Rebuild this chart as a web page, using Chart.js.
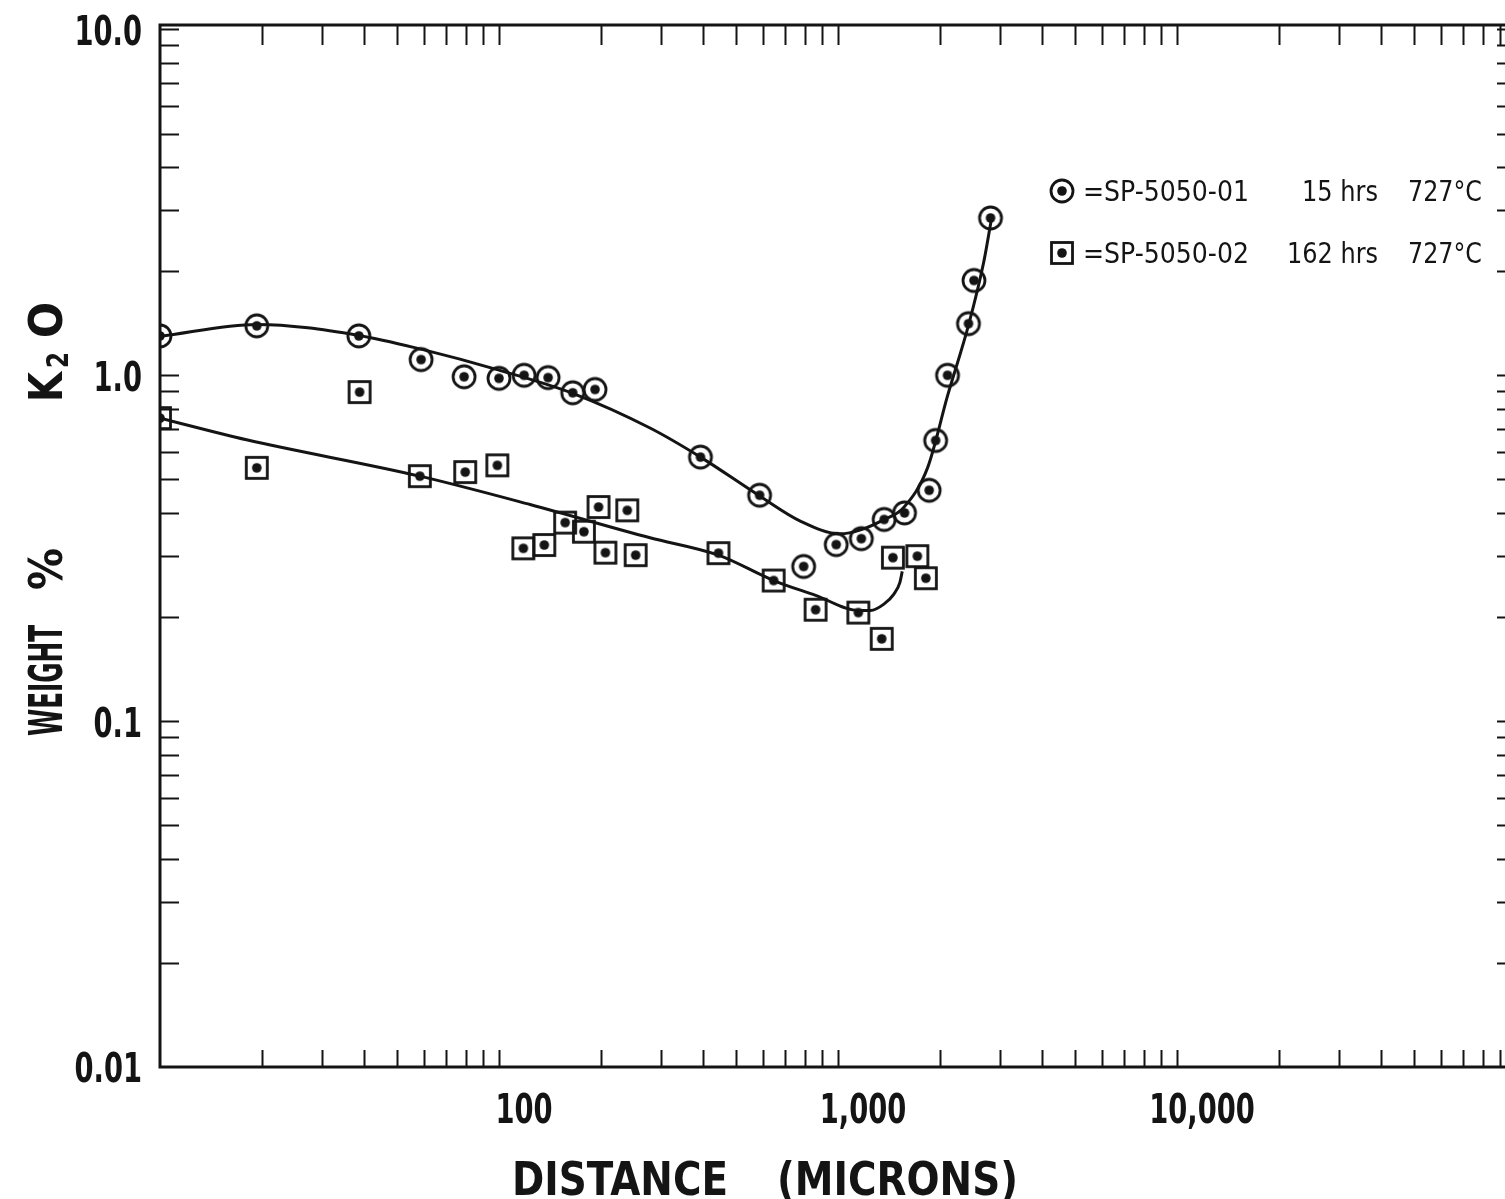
<!DOCTYPE html>
<html>
<head>
<meta charset="utf-8">
<title>Weight % K2O vs distance</title>
<script src="https://cdn.jsdelivr.net/npm/chart.js@4.4.1/dist/chart.umd.min.js"></script>
<style>
  html, body { margin: 0; padding: 0; background: #fff; overflow: hidden; }
  #wrap { width: 1540px; height: 1199px; }
</style>
</head>
<body>
<div id="wrap"><canvas id="k2oChart" width="1540" height="1199"></canvas></div>
<script>
// SP-5050-01, 15 hrs at 727 C
const run01Dist = [10, 19.3, 38.6, 58.9, 78.9, 100, 118.6, 139.6, 165, 192, 393, 587, 792, 988, 1172, 1368, 1571, 1857, 1941, 2104, 2426, 2518, 2818];
const run01K2O  = [1.30, 1.39, 1.30, 1.11, 0.99, 0.98, 1.0, 0.985, 0.89, 0.91, 0.58, 0.45, 0.28, 0.324, 0.337, 0.383, 0.40, 0.465, 0.648, 1.0, 1.41, 1.88, 2.85];

// SP-5050-02, 162 hrs at 727 C
const run02Dist = [10, 19.3, 38.8, 58.4, 79.5, 98.9, 118, 136, 156.7, 178, 196.6, 206, 239, 253, 444, 646, 859, 1148, 1346, 1452, 1714, 1816];
const run02K2O  = [0.752, 0.540, 0.894, 0.511, 0.525, 0.549, 0.316, 0.323, 0.375, 0.353, 0.416, 0.307, 0.407, 0.302, 0.306, 0.255, 0.210, 0.206, 0.173, 0.297, 0.300, 0.259];

// hand-faired curves through each set
const curve01Dist = [10, 19.3, 38.6, 58.9, 100, 165, 279, 393, 587, 774, 1013, 1172, 1361, 1560, 1837, 2107, 2430, 2692, 2830];
const curve01K2O  = [1.296, 1.403, 1.304, 1.19, 1.035, 0.887, 0.704, 0.580, 0.448, 0.379, 0.348, 0.358, 0.382, 0.414, 0.540, 0.876, 1.403, 2.13, 2.80];
const curve02Dist = [10, 18, 58.4, 123.5, 279, 444, 646, 859, 1148, 1247, 1366, 1462, 1523, 1547];
const curve02K2O  = [0.752, 0.651, 0.511, 0.423, 0.339, 0.302, 0.255, 0.231, 0.209, 0.209, 0.218, 0.233, 0.252, 0.271];

const xTickValues = [100, 1000, 10000];
const xTickLabels = ['100', '1,000', '10,000'];
const yTickValues = [0.01, 0.1, 1, 10];
const yTickLabels = ['0.01', '0.1', '1.0', '10.0'];

const legendNames = ['=SP-5050-01', '=SP-5050-02'];
const legendHours = ['15 hrs', '162 hrs'];
const legendTemps = ['727°C', '727°C'];

const INK = '#141414';
const NARROW = "'DejaVu Sans Condensed', 'DejaVu Sans', sans-serif";

function toPoints(xs, ys) {
    return xs.map((x, i) => ({ x: x, y: ys[i] }));
}

// ringed / boxed markers with a dot in the middle
function makeMarker(shape) {
    const c = document.createElement('canvas');
    c.width = 28;
    c.height = 28;
    const g = c.getContext('2d');
    g.strokeStyle = INK;
    g.fillStyle = INK;
    g.lineWidth = 2.8;
    if (shape === 'circle') {
        g.beginPath();
        g.arc(14, 14, 11, 0, Math.PI * 2);
        g.stroke();
    } else {
        g.strokeRect(3.5, 3.5, 21, 21);
    }
    g.beginPath();
    g.arc(14, 14, 4.8, 0, Math.PI * 2);
    g.fill();
    return c;
}
const circleMark = makeMarker('circle');
const squareMark = makeMarker('square');

// text drawn with a horizontal squeeze factor
function drawSqueezed(ctx, text, x, y, font, sx, align, angle) {
    ctx.save();
    ctx.font = font;
    ctx.translate(x, y);
    if (angle) ctx.rotate(angle);
    ctx.scale(sx, 1);
    ctx.textAlign = align || 'left';
    ctx.textBaseline = 'middle';
    ctx.fillStyle = INK;
    ctx.fillText(text, 0, 0);
    ctx.restore();
}

// text squeezed or stretched to a given run length
function drawFitted(ctx, text, x, y, font, width, angle) {
    ctx.save();
    ctx.font = font;
    const w = ctx.measureText(text).width;
    ctx.translate(x, y);
    if (angle) ctx.rotate(angle);
    ctx.scale(width / w, 1);
    ctx.textAlign = 'left';
    ctx.textBaseline = 'alphabetic';
    ctx.fillStyle = INK;
    ctx.fillText(text, 0, 0);
    ctx.restore();
}

// frame, inward tick marks, tick labels, axis titles and the key
const framePlugin = {
    id: 'frameAndKey',
    afterDraw(chart) {
        const ctx = chart.ctx;
        const a = chart.chartArea;
        const xs = chart.scales.x;
        const ys = chart.scales.y;

        ctx.save();
        ctx.strokeStyle = INK;
        ctx.lineWidth = 3;
        ctx.strokeRect(a.left, a.top, a.right - a.left, a.bottom - a.top);

        ctx.lineWidth = 2;
        ctx.beginPath();
        for (let k = 1; k <= 4; k++) {
            for (let m = 1; m <= 9; m++) {
                const v = m * Math.pow(10, k);
                if (v <= xs.min || v >= xs.max) continue;
                const px = Math.round(xs.getPixelForValue(v)) + 0.5;
                ctx.moveTo(px, a.bottom);
                ctx.lineTo(px, a.bottom - 17);
                ctx.moveTo(px, a.top);
                ctx.lineTo(px, a.top + 20);
            }
        }
        for (let k = -2; k <= 1; k++) {
            for (let m = 1; m <= 9; m++) {
                const v = m * Math.pow(10, k);
                if (v <= ys.min || v >= ys.max) continue;
                const py = Math.round(ys.getPixelForValue(v)) + 0.5;
                ctx.moveTo(a.left, py);
                ctx.lineTo(a.left + 19, py);
                ctx.moveTo(a.right, py);
                ctx.lineTo(a.right - 19, py);
            }
        }
        ctx.stroke();
        ctx.restore();

        // decade labels
        const tickFont = 'bold 40px ' + NARROW;
        xTickValues.forEach((v, i) => {
            drawSqueezed(ctx, xTickLabels[i], xs.getPixelForValue(v) + 25, 1113, tickFont, 0.76, 'center');
        });
        yTickValues.forEach((v, i) => {
            drawSqueezed(ctx, yTickLabels[i], 142, ys.getPixelForValue(v) + 5, tickFont, 0.76, 'right');
        });

        // axis titles
        const titleFont = "bold 46px 'DejaVu Sans', sans-serif";
        drawFitted(ctx, 'DISTANCE', 512, 1195, titleFont, 216);
        drawFitted(ctx, '(MICRONS)', 777, 1195, titleFont, 241);

        const up = -Math.PI / 2;
        drawFitted(ctx, 'WEIGHT', 62, 736, titleFont, 111, up);
        drawFitted(ctx, '%', 62, 590, titleFont, 42, up);
        drawFitted(ctx, 'K', 62, 402, titleFont, 30, up);
        drawFitted(ctx, '2', 68, 368, "bold 30px 'DejaVu Sans', sans-serif", 16, up);
        drawFitted(ctx, 'O', 62, 338, titleFont, 36, up);

        // key
        const keyFont = '28px ' + NARROW;
        const rows = [191, 253];
        const marks = [circleMark, squareMark];
        rows.forEach((cy, i) => {
            ctx.drawImage(marks[i], 1062 - 14, cy - 14);
            drawFitted(ctx, legendNames[i], 1083, cy + 10, keyFont, 166);
            drawFitted(ctx, legendHours[i], legendHours[i].length > 6 ? 1287 : 1302, cy + 10, keyFont, legendHours[i].length > 6 ? 91 : 76);
            drawFitted(ctx, legendTemps[i], 1408, cy + 10, keyFont, 74);
        });
    }
};

const curveStyle = {
    showLine: true,
    pointRadius: 0,
    borderColor: INK,
    borderWidth: 3,
    cubicInterpolationMode: 'monotone',
    fill: false
};

new Chart(document.getElementById('k2oChart'), {
    type: 'scatter',
    data: {
        datasets: [
            Object.assign({ label: 'SP-5050-01 curve', data: toPoints(curve01Dist, curve01K2O) }, curveStyle),
            Object.assign({ label: 'SP-5050-02 curve', data: toPoints(curve02Dist, curve02K2O) }, curveStyle),
            {
                label: 'SP-5050-01',
                data: toPoints(run01Dist, run01K2O),
                pointStyle: circleMark,
                pointRadius: 12,
                showLine: false
            },
            {
                label: 'SP-5050-02',
                data: toPoints(run02Dist, run02K2O),
                pointStyle: squareMark,
                pointRadius: 12,
                showLine: false
            }
        ]
    },
    options: {
        responsive: false,
        devicePixelRatio: 1,
        animation: false,
        layout: { padding: { top: 25, right: 24, left: 0, bottom: 0 } },
        plugins: {
            legend: { display: false },
            tooltip: { enabled: false }
        },
        scales: {
            x: {
                type: 'logarithmic',
                position: 'bottom',
                min: 10,
                max: 100000,
                grid: { display: false, drawTicks: false },
                border: { display: false },
                ticks: { display: false },
                afterFit: s => {
                    s.height = 132;
                    s.paddingLeft = 0;
                    s.paddingRight = 0;
                }
            },
            y: {
                type: 'logarithmic',
                position: 'left',
                min: 0.01,
                max: 10.3,
                grid: { display: false, drawTicks: false },
                border: { display: false },
                ticks: { display: false },
                afterFit: s => {
                    s.width = 160;
                    s.paddingTop = 0;
                    s.paddingBottom = 0;
                }
            }
        }
    },
    plugins: [framePlugin]
});
</script>
</body>
</html>
